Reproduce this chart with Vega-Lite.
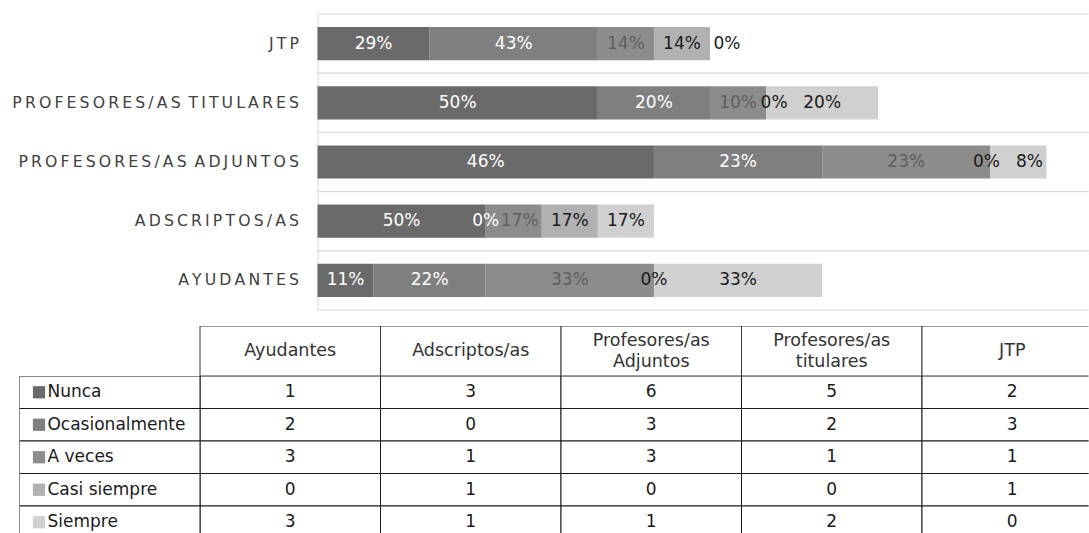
{
  "$schema": "https://vega.github.io/schema/vega-lite/v6.json",
  "padding": {"left": 11.5, "top": 13, "right": 0, "bottom": 0},
  "autosize": {"type": "pad"},
  "background": "white",
  "config": {"view": {"stroke": null}, "font": "DejaVu Sans", "text": {"font": "DejaVu Sans"}},
  "datasets": {
    "respuestas": [
      {"grupo": "Ayudantes", "categoria": "Nunca", "orden": 1, "n": 1, "etiqueta": "11%"},
      {"grupo": "Ayudantes", "categoria": "Ocasionalmente", "orden": 2, "n": 2, "etiqueta": "22%"},
      {"grupo": "Ayudantes", "categoria": "A veces", "orden": 3, "n": 3, "etiqueta": "33%"},
      {"grupo": "Ayudantes", "categoria": "Casi siempre", "orden": 4, "n": 0, "etiqueta": "0%"},
      {"grupo": "Ayudantes", "categoria": "Siempre", "orden": 5, "n": 3, "etiqueta": "33%"},
      {"grupo": "Adscriptos/as", "categoria": "Nunca", "orden": 1, "n": 3, "etiqueta": "50%"},
      {"grupo": "Adscriptos/as", "categoria": "Ocasionalmente", "orden": 2, "n": 0, "etiqueta": "0%"},
      {"grupo": "Adscriptos/as", "categoria": "A veces", "orden": 3, "n": 1, "etiqueta": "17%"},
      {"grupo": "Adscriptos/as", "categoria": "Casi siempre", "orden": 4, "n": 1, "etiqueta": "17%"},
      {"grupo": "Adscriptos/as", "categoria": "Siempre", "orden": 5, "n": 1, "etiqueta": "17%"},
      {"grupo": "Profesores/as Adjuntos", "categoria": "Nunca", "orden": 1, "n": 6, "etiqueta": "46%"},
      {"grupo": "Profesores/as Adjuntos", "categoria": "Ocasionalmente", "orden": 2, "n": 3, "etiqueta": "23%"},
      {"grupo": "Profesores/as Adjuntos", "categoria": "A veces", "orden": 3, "n": 3, "etiqueta": "23%"},
      {"grupo": "Profesores/as Adjuntos", "categoria": "Casi siempre", "orden": 4, "n": 0, "etiqueta": "0%"},
      {"grupo": "Profesores/as Adjuntos", "categoria": "Siempre", "orden": 5, "n": 1, "etiqueta": "8%"},
      {"grupo": "Profesores/as titulares", "categoria": "Nunca", "orden": 1, "n": 5, "etiqueta": "50%"},
      {"grupo": "Profesores/as titulares", "categoria": "Ocasionalmente", "orden": 2, "n": 2, "etiqueta": "20%"},
      {"grupo": "Profesores/as titulares", "categoria": "A veces", "orden": 3, "n": 1, "etiqueta": "10%"},
      {"grupo": "Profesores/as titulares", "categoria": "Casi siempre", "orden": 4, "n": 0, "etiqueta": "0%"},
      {"grupo": "Profesores/as titulares", "categoria": "Siempre", "orden": 5, "n": 2, "etiqueta": "20%"},
      {"grupo": "JTP", "categoria": "Nunca", "orden": 1, "n": 2, "etiqueta": "29%"},
      {"grupo": "JTP", "categoria": "Ocasionalmente", "orden": 2, "n": 3, "etiqueta": "43%"},
      {"grupo": "JTP", "categoria": "A veces", "orden": 3, "n": 1, "etiqueta": "14%"},
      {"grupo": "JTP", "categoria": "Casi siempre", "orden": 4, "n": 1, "etiqueta": "14%"},
      {"grupo": "JTP", "categoria": "Siempre", "orden": 5, "n": 0, "etiqueta": "0%"}
    ]
  },
  "resolve": {"scale": {"color": "independent", "fill": "independent"}},
  "spacing": 15,
  "vconcat": [
    {
      "width": 1069,
      "height": 296,
      "data": {"name": "respuestas"},
      "layer": [
        {
          "transform": [{"aggregate": [{"op": "count", "as": "c"}], "groupby": ["grupo"]}],
          "mark": {"type": "rule", "color": "#d9d9d9", "strokeWidth": 1},
          "encoding": {
            "y": {"field": "grupo", "type": "nominal", "bandPosition": 0,
                  "sort": ["JTP", "Profesores/as titulares", "Profesores/as Adjuntos", "Adscriptos/as", "Ayudantes"],
                  "scale": {"paddingInner": 0, "paddingOuter": 0},
                  "axis": {"title": null, "orient": "left", "offset": -298, "ticks": false, "domainColor": "#d9d9d9", "labelPadding": 19, "labelFont": "DejaVu Sans", "labelFontSize": 15.7, "labelColor": "#404040", "labelLimit": 400, "labelExpr": "join(split(replace(upper(datum.label),' ','\u200a'),''),'\u2009')"}},
            "x": {"datum": 0, "type": "quantitative", "scale": {"domain": [0, 13.75], "range": [298, 1069], "nice": false, "zero": true}, "axis": null},
            "x2": {"datum": 13.75}
          }
        },
        {
          "transform": [{"aggregate": [{"op": "count", "as": "c"}], "groupby": ["grupo"]}],
          "mark": {"type": "rule", "color": "#d9d9d9", "strokeWidth": 1},
          "encoding": {
            "y": {"field": "grupo", "type": "nominal", "bandPosition": 1,
                  "sort": ["JTP", "Profesores/as titulares", "Profesores/as Adjuntos", "Adscriptos/as", "Ayudantes"],
                  "scale": {"paddingInner": 0, "paddingOuter": 0},
                  "axis": {"title": null, "orient": "left", "offset": -298, "ticks": false, "domainColor": "#d9d9d9", "labelPadding": 19, "labelFont": "DejaVu Sans", "labelFontSize": 15.7, "labelColor": "#404040", "labelLimit": 400, "labelExpr": "join(split(replace(upper(datum.label),' ','\u200a'),''),'\u2009')"}},
            "x": {"datum": 0, "type": "quantitative", "scale": {"domain": [0, 13.75], "range": [298, 1069], "nice": false, "zero": true}, "axis": null},
            "x2": {"datum": 13.75}
          }
        },
        {
          "mark": {"type": "bar", "height": {"band": 0.56}},
          "encoding": {
            "y": {"field": "grupo", "type": "nominal",
                  "sort": ["JTP", "Profesores/as titulares", "Profesores/as Adjuntos", "Adscriptos/as", "Ayudantes"],
                  "scale": {"paddingInner": 0, "paddingOuter": 0},
                  "axis": {"title": null, "orient": "left", "offset": -298, "ticks": false, "domainColor": "#d9d9d9", "labelPadding": 19, "labelFont": "DejaVu Sans", "labelFontSize": 15.7, "labelColor": "#404040", "labelLimit": 400, "labelExpr": "join(split(replace(upper(datum.label),' ','\u200a'),''),'\u2009')"}},
            "x": {"field": "n", "type": "quantitative", "stack": "zero", "scale": {"domain": [0, 13.75], "range": [298, 1069], "nice": false, "zero": true}, "axis": null},
            "color": {"field": "categoria", "type": "nominal", "legend": null,
                      "scale": {"domain": ["Nunca", "Ocasionalmente", "A veces", "Casi siempre", "Siempre"], "range": ["#6a6a6a", "#7f7f7f", "#8c8c8c", "#b1b1b1", "#d0d0d0"]}},
            "order": {"field": "orden", "type": "quantitative"}
          }
        },
        {
          "mark": {"type": "text", "fontSize": 17, "font": "DejaVu Sans"},
          "encoding": {
            "y": {"field": "grupo", "type": "nominal",
                  "sort": ["JTP", "Profesores/as titulares", "Profesores/as Adjuntos", "Adscriptos/as", "Ayudantes"],
                  "scale": {"paddingInner": 0, "paddingOuter": 0},
                  "axis": {"title": null, "orient": "left", "offset": -298, "ticks": false, "domainColor": "#d9d9d9", "labelPadding": 19, "labelFont": "DejaVu Sans", "labelFontSize": 15.7, "labelColor": "#404040", "labelLimit": 400, "labelExpr": "join(split(replace(upper(datum.label),' ','\u200a'),''),'\u2009')"}},
            "x": {"field": "n", "type": "quantitative", "stack": "zero", "bandPosition": 0.5, "scale": {"domain": [0, 13.75], "range": [298, 1069], "nice": false, "zero": true}, "axis": null},
            "detail": {"field": "categoria", "type": "nominal"},
            "fill": {"field": "categoria", "type": "nominal", "legend": null,
                     "scale": {"domain": ["Nunca", "Ocasionalmente", "A veces", "Casi siempre", "Siempre"], "range": ["#ffffff", "#ffffff", "#5e5e5e", "#1a1a1a", "#1a1a1a"]}},
            "order": {"field": "orden", "type": "quantitative"},
            "text": {"condition": {"test": "(datum.n === 0 && (datum.grupo === 'JTP' || datum.grupo === 'Profesores/as titulares')) || (datum.grupo === 'Adscriptos/as' && datum.categoria === 'A veces') || (datum.grupo === 'Profesores/as Adjuntos' && (datum.categoria === 'Casi siempre' || datum.categoria === 'Siempre'))", "value": ""}, "field": "etiqueta"}
          }
        },
        {
          "mark": {"type": "text", "fontSize": 17, "font": "DejaVu Sans", "color": "#5e5e5e", "dx": 6},
          "encoding": {
            "y": {"field": "grupo", "type": "nominal",
                  "sort": ["JTP", "Profesores/as titulares", "Profesores/as Adjuntos", "Adscriptos/as", "Ayudantes"],
                  "scale": {"paddingInner": 0, "paddingOuter": 0},
                  "axis": {"title": null, "orient": "left", "offset": -298, "ticks": false, "domainColor": "#d9d9d9", "labelPadding": 19, "labelFont": "DejaVu Sans", "labelFontSize": 15.7, "labelColor": "#404040", "labelLimit": 400, "labelExpr": "join(split(replace(upper(datum.label),' ','\u200a'),''),'\u2009')"}},
            "x": {"field": "n", "type": "quantitative", "stack": "zero", "bandPosition": 0.5, "scale": {"domain": [0, 13.75], "range": [298, 1069], "nice": false, "zero": true}, "axis": null},
            "detail": {"field": "categoria", "type": "nominal"},
            "order": {"field": "orden", "type": "quantitative"},
            "text": {"condition": {"test": "datum.grupo === 'Adscriptos/as' && datum.categoria === 'A veces'", "field": "etiqueta"}, "value": ""}
          }
        },
        {
          "mark": {"type": "text", "fontSize": 17, "font": "DejaVu Sans", "color": "#1a1a1a", "dx": -4},
          "encoding": {
            "y": {"field": "grupo", "type": "nominal",
                  "sort": ["JTP", "Profesores/as titulares", "Profesores/as Adjuntos", "Adscriptos/as", "Ayudantes"],
                  "scale": {"paddingInner": 0, "paddingOuter": 0},
                  "axis": {"title": null, "orient": "left", "offset": -298, "ticks": false, "domainColor": "#d9d9d9", "labelPadding": 19, "labelFont": "DejaVu Sans", "labelFontSize": 15.7, "labelColor": "#404040", "labelLimit": 400, "labelExpr": "join(split(replace(upper(datum.label),' ','\u200a'),''),'\u2009')"}},
            "x": {"field": "n", "type": "quantitative", "stack": "zero", "bandPosition": 0.5, "scale": {"domain": [0, 13.75], "range": [298, 1069], "nice": false, "zero": true}, "axis": null},
            "detail": {"field": "categoria", "type": "nominal"},
            "order": {"field": "orden", "type": "quantitative"},
            "text": {"condition": {"test": "datum.grupo === 'Profesores/as Adjuntos' && datum.categoria === 'Casi siempre'", "field": "etiqueta"}, "value": ""}
          }
        },
        {
          "mark": {"type": "text", "fontSize": 17, "font": "DejaVu Sans", "color": "#1a1a1a", "dx": 11},
          "encoding": {
            "y": {"field": "grupo", "type": "nominal",
                  "sort": ["JTP", "Profesores/as titulares", "Profesores/as Adjuntos", "Adscriptos/as", "Ayudantes"],
                  "scale": {"paddingInner": 0, "paddingOuter": 0},
                  "axis": {"title": null, "orient": "left", "offset": -298, "ticks": false, "domainColor": "#d9d9d9", "labelPadding": 19, "labelFont": "DejaVu Sans", "labelFontSize": 15.7, "labelColor": "#404040", "labelLimit": 400, "labelExpr": "join(split(replace(upper(datum.label),' ','\u200a'),''),'\u2009')"}},
            "x": {"field": "n", "type": "quantitative", "stack": "zero", "bandPosition": 0.5, "scale": {"domain": [0, 13.75], "range": [298, 1069], "nice": false, "zero": true}, "axis": null},
            "detail": {"field": "categoria", "type": "nominal"},
            "order": {"field": "orden", "type": "quantitative"},
            "text": {"condition": {"test": "datum.grupo === 'Profesores/as Adjuntos' && datum.categoria === 'Siempre'", "field": "etiqueta"}, "value": ""}
          }
        },
        {
          "transform": [
            {"stack": "n", "groupby": ["grupo"], "sort": [{"field": "orden", "order": "ascending"}], "as": ["n0", "n1"]},
            {"filter": "datum.n === 0 && datum.grupo === 'JTP'"}
          ],
          "mark": {"type": "text", "fontSize": 17, "font": "DejaVu Sans", "color": "#1a1a1a", "dx": 17},
          "encoding": {
            "y": {"field": "grupo", "type": "nominal",
                  "sort": ["JTP", "Profesores/as titulares", "Profesores/as Adjuntos", "Adscriptos/as", "Ayudantes"],
                  "scale": {"paddingInner": 0, "paddingOuter": 0},
                  "axis": {"title": null, "orient": "left", "offset": -298, "ticks": false, "domainColor": "#d9d9d9", "labelPadding": 19, "labelFont": "DejaVu Sans", "labelFontSize": 15.7, "labelColor": "#404040", "labelLimit": 400, "labelExpr": "join(split(replace(upper(datum.label),' ','\u200a'),''),'\u2009')"}},
            "x": {"field": "n1", "type": "quantitative", "scale": {"domain": [0, 13.75], "range": [298, 1069], "nice": false, "zero": true}, "axis": null},
            "text": {"field": "etiqueta"}
          }
        },
        {
          "transform": [
            {"stack": "n", "groupby": ["grupo"], "sort": [{"field": "orden", "order": "ascending"}], "as": ["n0", "n1"]},
            {"filter": "datum.n === 0 && datum.grupo === 'Profesores/as titulares'"}
          ],
          "mark": {"type": "text", "fontSize": 17, "font": "DejaVu Sans", "color": "#1a1a1a", "dx": 8},
          "encoding": {
            "y": {"field": "grupo", "type": "nominal",
                  "sort": ["JTP", "Profesores/as titulares", "Profesores/as Adjuntos", "Adscriptos/as", "Ayudantes"],
                  "scale": {"paddingInner": 0, "paddingOuter": 0},
                  "axis": {"title": null, "orient": "left", "offset": -298, "ticks": false, "domainColor": "#d9d9d9", "labelPadding": 19, "labelFont": "DejaVu Sans", "labelFontSize": 15.7, "labelColor": "#404040", "labelLimit": 400, "labelExpr": "join(split(replace(upper(datum.label),' ','\u200a'),''),'\u2009')"}},
            "x": {"field": "n1", "type": "quantitative", "scale": {"domain": [0, 13.75], "range": [298, 1069], "nice": false, "zero": true}, "axis": null},
            "text": {"field": "etiqueta"}
          }
        }
      ]
    },
    {
      "spacing": 0,
      "vconcat": [
        {
          "width": 1069,
          "height": 50,
          "data": {"name": "respuestas"},
          "transform": [{"filter": "datum.categoria === 'Nunca'"}],
          "layer": [
            {
              "mark": {"type": "rect", "fill": "white", "stroke": "#3a3a3a", "strokeWidth": 1, "clip": true},
              "encoding": {
                "x": {"field": "grupo", "type": "nominal", "sort": null, "axis": null,
                      "scale": {"domain": [" ", "Ayudantes", "Adscriptos/as", "Profesores/as Adjuntos", "Profesores/as titulares", "JTP"], "range": [0, 1083], "paddingInner": 0, "paddingOuter": 0}}
              }
            },
            {
              "transform": [{"filter": "indexof(datum.grupo, ' ') < 0"}],
              "mark": {"type": "text", "fontSize": 17.5, "font": "DejaVu Sans", "color": "#333333", "clip": true},
              "encoding": {
                "x": {"field": "grupo", "type": "nominal", "sort": null, "axis": null,
                      "scale": {"domain": [" ", "Ayudantes", "Adscriptos/as", "Profesores/as Adjuntos", "Profesores/as titulares", "JTP"], "range": [0, 1083], "paddingInner": 0, "paddingOuter": 0}},
                "text": {"field": "grupo"}
              }
            },
            {
              "transform": [{"filter": "indexof(datum.grupo, ' ') >= 0"}],
              "mark": {"type": "text", "fontSize": 17.5, "font": "DejaVu Sans", "lineBreak": " ", "lineHeight": 21, "dy": -10.5, "color": "#333333", "clip": true},
              "encoding": {
                "x": {"field": "grupo", "type": "nominal", "sort": null, "axis": null,
                      "scale": {"domain": [" ", "Ayudantes", "Adscriptos/as", "Profesores/as Adjuntos", "Profesores/as titulares", "JTP"], "range": [0, 1083], "paddingInner": 0, "paddingOuter": 0}},
                "text": {"field": "grupo"}
              }
            }
          ]
        },
        {
          "width": 1069,
          "height": 159,
          "data": {"name": "respuestas"},
          "layer": [
            {
              "mark": {"type": "rect", "fill": "white", "stroke": "#1a1a1a", "strokeWidth": 1, "clip": true},
              "encoding": {
                "x": {"field": "grupo", "type": "nominal", "sort": null, "axis": null,
                      "scale": {"domain": [" ", "Ayudantes", "Adscriptos/as", "Profesores/as Adjuntos", "Profesores/as titulares", "JTP"], "range": [0, 1083], "paddingInner": 0, "paddingOuter": 0}},
                "y": {"field": "categoria", "type": "nominal", "sort": null, "axis": null,
                      "scale": {"domain": ["Nunca", "Ocasionalmente", "A veces", "Casi siempre", "Siempre"], "range": [0, 162.5], "paddingInner": 0, "paddingOuter": 0}}
              }
            },
            {
              "transform": [{"filter": "datum.grupo === 'JTP'"}],
              "mark": {"type": "rect", "fill": "white", "stroke": "#1a1a1a", "strokeWidth": 1, "clip": true},
              "encoding": {
                "x": {"datum": " ", "type": "nominal", "axis": null,
                      "scale": {"domain": [" ", "Ayudantes", "Adscriptos/as", "Profesores/as Adjuntos", "Profesores/as titulares", "JTP"], "range": [0, 1083], "paddingInner": 0, "paddingOuter": 0}},
                "y": {"field": "categoria", "type": "nominal", "sort": null, "axis": null,
                      "scale": {"domain": ["Nunca", "Ocasionalmente", "A veces", "Casi siempre", "Siempre"], "range": [0, 162.5], "paddingInner": 0, "paddingOuter": 0}}
              }
            },
            {
              "mark": {"type": "text", "fontSize": 17, "font": "DejaVu Sans", "color": "#1a1a1a", "clip": true},
              "encoding": {
                "x": {"field": "grupo", "type": "nominal", "sort": null, "axis": null,
                      "scale": {"domain": [" ", "Ayudantes", "Adscriptos/as", "Profesores/as Adjuntos", "Profesores/as titulares", "JTP"], "range": [0, 1083], "paddingInner": 0, "paddingOuter": 0}},
                "y": {"field": "categoria", "type": "nominal", "sort": null, "axis": null,
                      "scale": {"domain": ["Nunca", "Ocasionalmente", "A veces", "Casi siempre", "Siempre"], "range": [0, 162.5], "paddingInner": 0, "paddingOuter": 0}},
                "text": {"field": "n", "type": "quantitative"}
              }
            },
            {
              "transform": [{"filter": "datum.grupo === 'JTP'"}],
              "mark": {"type": "point", "shape": "square", "filled": true, "size": 150, "opacity": 1},
              "encoding": {
                "x": {"datum": " ", "type": "nominal", "bandPosition": 0.108, "axis": null,
                      "scale": {"domain": [" ", "Ayudantes", "Adscriptos/as", "Profesores/as Adjuntos", "Profesores/as titulares", "JTP"], "range": [0, 1083], "paddingInner": 0, "paddingOuter": 0}},
                "y": {"field": "categoria", "type": "nominal", "sort": null, "axis": null,
                      "scale": {"domain": ["Nunca", "Ocasionalmente", "A veces", "Casi siempre", "Siempre"], "range": [0, 162.5], "paddingInner": 0, "paddingOuter": 0}},
                "color": {"field": "categoria", "type": "nominal", "legend": null,
                          "scale": {"domain": ["Nunca", "Ocasionalmente", "A veces", "Casi siempre", "Siempre"], "range": ["#6a6a6a", "#7f7f7f", "#8c8c8c", "#b1b1b1", "#d0d0d0"]}}
              }
            },
            {
              "transform": [{"filter": "datum.grupo === 'JTP'"}],
              "mark": {"type": "text", "fontSize": 17, "font": "DejaVu Sans", "align": "left", "color": "#1a1a1a", "clip": true},
              "encoding": {
                "x": {"datum": " ", "type": "nominal", "bandPosition": 0.155, "axis": null,
                      "scale": {"domain": [" ", "Ayudantes", "Adscriptos/as", "Profesores/as Adjuntos", "Profesores/as titulares", "JTP"], "range": [0, 1083], "paddingInner": 0, "paddingOuter": 0}},
                "y": {"field": "categoria", "type": "nominal", "sort": null, "axis": null,
                      "scale": {"domain": ["Nunca", "Ocasionalmente", "A veces", "Casi siempre", "Siempre"], "range": [0, 162.5], "paddingInner": 0, "paddingOuter": 0}},
                "text": {"field": "categoria"}
              }
            }
          ]
        }
      ]
    }
  ]
}
